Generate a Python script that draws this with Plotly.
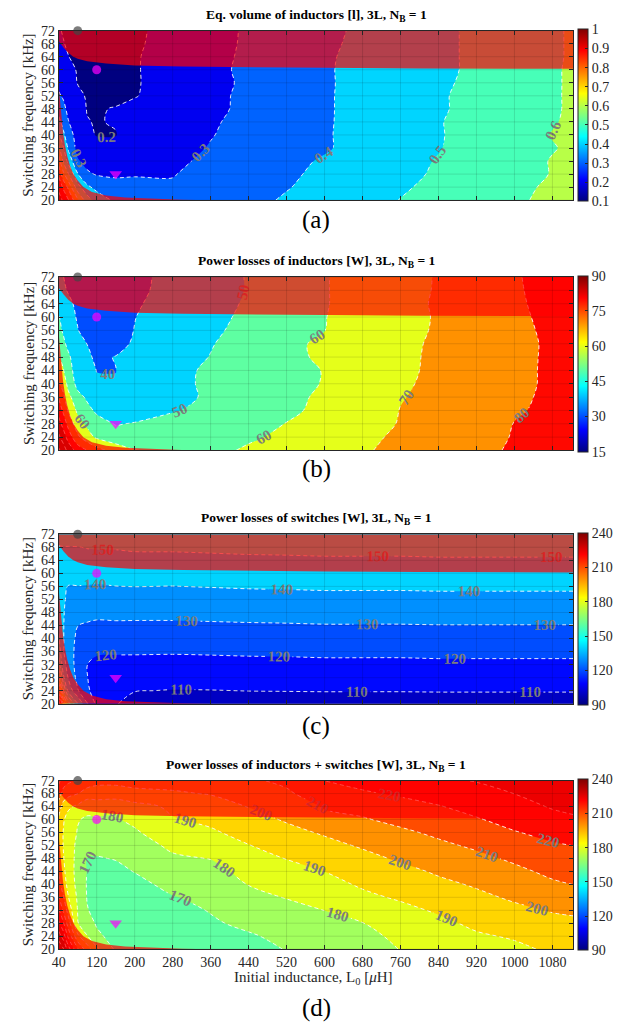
import plotly.graph_objects as go

W, H = 627, 1034

# ---------------- data ----------------
L0 = [40, 50, 60, 80, 100, 120, 160, 200, 280, 360, 440, 520, 600, 680, 760, 840, 920, 1000, 1080, 1124]
FSW = [20, 24, 28, 32, 36, 40, 44, 48, 52, 56, 60, 64, 68, 72]

# (a) equivalent volume of inductors [l]; one row per switching frequency
vol_ind = [
    [1.05, 0.98, 0.91, 0.71, 0.55, 0.46, 0.38, 0.35, 0.33, 0.35, 0.375, 0.41, 0.44, 0.47, 0.502, 0.53, 0.56, 0.59, 0.615, 0.63],
    [0.97, 0.88, 0.78, 0.54, 0.42, 0.37, 0.325, 0.315, 0.31, 0.335, 0.36, 0.395, 0.43, 0.46, 0.49, 0.52, 0.55, 0.585, 0.61, 0.625],
    [0.88, 0.72, 0.61, 0.405, 0.315, 0.293, 0.29, 0.296, 0.296, 0.33, 0.365, 0.385, 0.42, 0.45, 0.48, 0.51, 0.545, 0.575, 0.603, 0.618],
    [0.75, 0.58, 0.47, 0.31, 0.27, 0.255, 0.25, 0.26, 0.285, 0.315, 0.345, 0.375, 0.41, 0.44, 0.475, 0.505, 0.54, 0.57, 0.604, 0.615],
    [0.62, 0.505, 0.39, 0.27, 0.24, 0.225, 0.22, 0.235, 0.27, 0.305, 0.335, 0.37, 0.39, 0.435, 0.47, 0.496, 0.535, 0.568, 0.596, 0.612],
    [0.52, 0.42, 0.34, 0.265, 0.215, 0.197, 0.197, 0.24, 0.275, 0.296, 0.33, 0.365, 0.39, 0.435, 0.468, 0.494, 0.53, 0.565, 0.603, 0.615],
    [0.43, 0.36, 0.305, 0.245, 0.203, 0.196, 0.205, 0.245, 0.27, 0.29, 0.325, 0.36, 0.39, 0.43, 0.465, 0.495, 0.53, 0.56, 0.595, 0.612],
    [0.36, 0.32, 0.28, 0.23, 0.197, 0.185, 0.21, 0.225, 0.255, 0.28, 0.32, 0.355, 0.39, 0.428, 0.46, 0.49, 0.525, 0.558, 0.592, 0.61],
    [0.31, 0.29, 0.26, 0.225, 0.19, 0.165, 0.155, 0.195, 0.245, 0.28, 0.318, 0.355, 0.39, 0.428, 0.458, 0.49, 0.525, 0.555, 0.592, 0.61],
    [0.28, 0.25, 0.23, 0.197, 0.17, 0.155, 0.15, 0.192, 0.24, 0.275, 0.315, 0.352, 0.39, 0.425, 0.455, 0.485, 0.52, 0.552, 0.59, 0.612],
    [0.23, 0.22, 0.215, 0.196, 0.15, 0.14, 0.155, 0.193, 0.238, 0.278, 0.318, 0.357, 0.39, 0.427, 0.456, 0.482, 0.515, 0.55, 0.59, 0.612],
    [0.22, 0.215, 0.203, 0.17, 0.15, 0.14, 0.155, 0.193, 0.235, 0.275, 0.315, 0.355, 0.388, 0.425, 0.455, 0.482, 0.515, 0.55, 0.588, 0.61],
    [0.215, 0.205, 0.185, 0.16, 0.145, 0.14, 0.155, 0.188, 0.232, 0.272, 0.312, 0.352, 0.383, 0.42, 0.452, 0.482, 0.515, 0.55, 0.588, 0.61],
    [0.21, 0.191, 0.17, 0.15, 0.14, 0.14, 0.155, 0.185, 0.23, 0.27, 0.311, 0.35, 0.38, 0.415, 0.45, 0.482, 0.515, 0.55, 0.588, 0.61],
]

# (b) power losses of inductors [W]
loss_ind = [
    [112, 105, 97, 86, 80.5, 74, 66, 60.5, 57, 58, 61, 63, 65.5, 69, 72.5, 75, 78, 81, 83.5, 86],
    [102, 95, 86, 72, 64, 58.5, 54, 53, 54, 55.5, 59, 61.5, 64, 68, 71.5, 74, 77, 80.5, 83, 85],
    [94, 86, 77, 64, 58, 53.5, 49.5, 50.5, 52.5, 54.5, 56.5, 60.2, 62.5, 66.5, 70.5, 73, 76.5, 80.2, 82.5, 85],
    [86, 78, 69, 58, 52.5, 48.5, 45, 46, 49.5, 52, 55, 58.8, 61.5, 65.5, 70.2, 72.5, 76, 79, 82, 84],
    [79, 72, 63, 53, 48.5, 45, 43, 44.5, 48.8, 50.6, 54.5, 58.5, 61, 65, 69.6, 72, 75.5, 78.5, 81.5, 84],
    [71, 66, 57, 47, 44, 40.6, 40.4, 44, 48.5, 51, 54, 57, 60.5, 65, 69.7, 70.5, 75, 78.5, 81, 84],
    [64, 60.5, 52.5, 47, 42, 39.9, 39.9, 43.5, 48.2, 51, 54, 57.5, 60.3, 65, 69.6, 70.4, 75, 77.7, 81.5, 84],
    [60.5, 57, 51.5, 45, 41, 39, 40.2, 42.5, 47, 50.2, 53.5, 58.5, 61, 65, 69.3, 70.6, 75, 77.5, 81.5, 84],
    [55, 51.5, 48, 43, 39.9, 37.5, 38, 40.8, 46, 49.6, 53, 58.5, 61.2, 65, 68.8, 70.8, 74.5, 77.3, 81.5, 84],
    [52, 49, 45.5, 40.2, 38, 36.5, 37, 40.2, 45, 48.8, 52, 56, 59.9, 64.5, 68.6, 70.5, 74.5, 77.5, 82, 85],
    [50.5, 47, 42, 39.5, 37.5, 36, 36.5, 39.8, 44.5, 48, 51.5, 55.5, 59.7, 64.5, 68.5, 70.4, 75, 78, 82.5, 85],
    [45, 43.5, 41.5, 38.5, 36.5, 35.5, 36, 39, 43.5, 47, 51, 55, 59.4, 64, 67.8, 70.8, 75, 78.5, 83, 86],
    [43, 41, 39.5, 37, 35.5, 35, 35.5, 38, 43, 46.5, 50.5, 55, 59.4, 64, 67.5, 70.6, 75, 78.8, 83.5, 86],
    [42, 40.1, 38, 36, 35, 34.5, 35, 37.5, 43, 46.5, 50.5, 55, 59.4, 64, 67.5, 70.5, 75, 79, 84, 86],
]

# (c) power losses of switches [W]
loss_sw = [
    [238, 198, 175, 151, 131, 118, 110.5, 107, 105.8, 106, 106.2, 106.3, 106.5, 106.5, 106.5, 106.6, 106.6, 106.6, 106.6, 106.6],
    [205, 171, 148, 130.8, 122, 115, 111.5, 110.3, 109.7, 109.8, 110.1, 110.2, 110.3, 110.3, 110.3, 110.4, 110.4, 110.4, 110.4, 110.4],
    [181, 152, 139.5, 127, 120.3, 115.5, 114, 113.8, 113.3, 113.5, 113.8, 113.9, 114.2, 114.2, 114.2, 114.3, 114.3, 114.3, 114.3, 114.3],
    [165, 143, 137, 125.5, 120.1, 117.5, 117.2, 117.3, 117, 117.3, 117.6, 117.8, 118.1, 118.1, 118.1, 118.3, 118.3, 118.3, 118.3, 118.3],
    [156, 140.5, 136, 126, 121.5, 121.3, 121, 120.9, 120.8, 121, 121.3, 121.4, 121.7, 121.7, 121.7, 122, 122, 122, 122, 122],
    [151, 140.3, 136, 127.5, 125, 125, 124.8, 124.6, 124.5, 124.8, 125.1, 125.3, 125.6, 125.6, 125.6, 125.8, 125.8, 125.8, 125.8, 125.8],
    [148.5, 140.3, 136.5, 130.1, 129, 128.5, 128.6, 128.5, 128.5, 128.8, 129.1, 129.3, 129.6, 129.6, 129.6, 129.8, 129.8, 129.8, 129.8, 129.8],
    [147.5, 140.5, 137.5, 133.5, 133, 132, 132.4, 132.4, 132.4, 132.7, 133, 133.2, 133.5, 133.5, 133.5, 133.7, 133.7, 133.7, 133.7, 133.7],
    [147, 141, 138.5, 137, 136.8, 136.5, 136.2, 136.2, 136.2, 136.5, 136.9, 137.1, 137.4, 137.4, 137.4, 137.6, 137.6, 137.6, 137.6, 137.6],
    [147, 142.5, 139.7, 139.8, 139.6, 139.3, 139.9, 140.1, 139.9, 140.3, 140.7, 140.9, 141.2, 141.2, 141.2, 141.4, 141.4, 141.4, 141.4, 141.4],
    [147.5, 145.5, 142.5, 143.5, 143.5, 143, 143.6, 143.8, 143.7, 144.1, 144.5, 144.7, 145.1, 145.1, 145.1, 145.2, 145.2, 145.2, 145.2, 145.2],
    [148.5, 148, 146.5, 147.3, 147.5, 147.4, 147.5, 147.6, 147.6, 147.9, 148.3, 148.5, 148.8, 148.8, 148.8, 149.1, 149.1, 149.1, 149.1, 149.1],
    [149.7, 149.8, 149.7, 149.8, 150.3, 150.6, 150.6, 151.2, 151.3, 151.7, 152.1, 152.3, 152.6, 152.6, 152.6, 152.8, 152.8, 152.8, 152.8, 152.8],
    [152, 153, 154, 154.5, 154.5, 154.3, 155.1, 155.1, 155.1, 155.4, 155.8, 156, 156.4, 156.4, 156.4, 156.6, 156.6, 156.6, 156.6, 156.6],
]

# (d) power losses of inductors + switches [W]
loss_tot = [
    [259, 251, 235, 211, 195, 182, 168.5, 166, 165.5, 167, 167.5, 170.3, 173, 175.5, 180.3, 183.5, 186.5, 188, 191.5, 193],
    [245, 235, 218, 192, 180.5, 172, 166.5, 164.5, 165.1, 167.5, 169, 172.3, 175.1, 177.5, 182, 185.1, 188.8, 191, 194.5, 195.5],
    [232, 221, 205, 180.5, 174, 169, 165.1, 164, 165.5, 168.8, 172, 174.8, 177.3, 179.8, 184.5, 187.8, 192, 195.1, 197.5, 198.3],
    [221, 208, 196, 179.6, 170.5, 167.5, 164.5, 164.5, 167, 170.5, 175.1, 177.3, 180.1, 184.5, 187.5, 191.2, 195.1, 198, 200.6, 201.3],
    [211, 200.5, 190.5, 178.5, 169.5, 167, 164.8, 165.5, 169.6, 172, 177.5, 180.4, 184, 188, 191.2, 195.1, 198, 201.3, 205.5, 206.5],
    [203, 195, 187, 177, 169.3, 167.3, 165.5, 167.5, 172.5, 174.3, 180.3, 184, 187, 191.2, 194.5, 198, 201, 204.8, 208.7, 210.1],
    [199, 192, 185.5, 176.5, 169.6, 168, 168, 170.3, 175.5, 177, 183, 187, 190.1, 194.5, 197.5, 201.2, 204.5, 208, 212, 213],
    [197, 190.5, 185.1, 177, 169.8, 169.5, 170.4, 172.5, 178.5, 180.3, 186, 190.3, 193.5, 197.5, 201.2, 204.5, 207.8, 211.5, 215.5, 216.5],
    [196, 189.5, 184.5, 178, 173, 172.5, 172.5, 175.5, 182, 185.1, 189.7, 194.2, 197.5, 201, 204.7, 208.2, 211.5, 216, 219, 220.1],
    [196, 189.5, 184.5, 179.5, 177.5, 176, 176, 178.8, 186, 188.6, 193.5, 197.5, 201, 205.5, 208.3, 211.8, 215.5, 219.5, 222.5, 224.5],
    [198, 191, 186, 180.5, 179, 179, 179.2, 182, 189.3, 192.2, 196.8, 200.9, 207.5, 209.2, 212.5, 215.5, 219.3, 223, 227, 228.8],
    [205.1, 196, 192, 188, 182.5, 183.5, 181.5, 186, 192, 196, 200.3, 204, 210.8, 213, 216.5, 219.5, 223, 226.5, 230.8, 232],
    [215.1, 206, 203, 200.2, 196, 196, 196.5, 198.5, 199, 200.5, 205.1, 208.5, 215.5, 218.8, 221.3, 224, 226.5, 230.1, 234, 235.5],
    [222, 215.1, 212, 210.2, 205.1, 202.5, 202, 202, 203, 204, 208.5, 212, 220.1, 223, 227, 228.5, 230.5, 234, 237, 239],
]

# infeasible (shaded) region boundaries
shade_top_x = [40, 50, 60, 70, 80, 100, 140, 200, 300, 400, 600, 800, 1124]
shade_top_y = [68.8, 66.8, 65.2, 64.1, 63.4, 62.6, 61.9, 61.3, 61.0, 60.8, 60.6, 60.4, 60.3]
shade_corner_x = [40, 43, 46, 49, 53, 58, 64, 71, 80, 92, 110, 140, 180, 240, 300, 360]
shade_corner_y = [55, 50, 45, 41, 37, 33.5, 30.5, 28, 26, 24, 22.5, 21.4, 20.8, 20.4, 20.15, 20.0]

# highlighted design points
mark_x = [80, 120, 160]
mark_y = [72, 60, 28]
mark_symbol = ["circle", "circle", "triangle-down"]
mark_color = ["rgb(68,68,68)", "rgb(255,0,255)", "rgb(255,0,255)"]
mark_size = [9, 9, 11]

x_ticks = [40, 120, 200, 280, 360, 440, 520, 600, 680, 760, 840, 920, 1000, 1080]
y_ticks = [20, 24, 28, 32, 36, 40, 44, 48, 52, 56, 60, 64, 68, 72]
X_RANGE = [40, 1124]
Y_RANGE = [20, 72]

titles = [
    "<b>Eq. volume of inductors [l], 3L, N<sub>B</sub> = 1</b>",
    "<b>Power losses of inductors [W], 3L, N<sub>B</sub> = 1</b>",
    "<b>Power losses of switches [W], 3L, N<sub>B</sub> = 1</b>",
    "<b>Power losses of inductors + switches [W], 3L, N<sub>B</sub> = 1</b>",
]
captions = ["(a)", "(b)", "(c)", "(d)"]

cbar_vals = [
    [0.1, 0.2, 0.3, 0.4, 0.5, 0.6, 0.7, 0.8, 0.9, 1.0],
    [15, 30, 45, 60, 75, 90],
    [90, 120, 150, 180, 210, 240],
    [90, 120, 150, 180, 210, 240],
]
cbar_text = [
    ["0.1", "0.2", "0.3", "0.4", "0.5", "0.6", "0.7", "0.8", "0.9", "1"],
    ["15", "30", "45", "60", "75", "90"],
    ["90", "120", "150", "180", "210", "240"],
    ["90", "120", "150", "180", "210", "240"],
]
cranges = [(0.1, 1.0), (15, 90), (90, 240), (90, 240)]
# contour levels: first level, step, number of levels (levels above the data
# simply draw nothing but make plotly place labels more densely)
levels = [(0.1, 0.1, 50), (20, 10, 50), (100, 10, 50), (160, 10, 50)]
label_fmt = [".1f", ".0f", ".0f", ".0f"]
zdata = [vol_ind, loss_ind, loss_sw, loss_tot]

# ---------------- layout geometry (pixels) ----------------
tops = [24, 274, 535, 785]
bottoms = [196, 450, 707, 956]
plot_left, plot_right = 52.3, 572.7
title_y = [8.5, 258, 519, 770]
caption_y = [216, 469, 730, 1016]

FONT = "Liberation Serif"
INK = "rgb(38,38,38)"


def jet_rgb(t):
    t = max(0.0, min(1.0, t))
    r = max(0.0, min(1.0, 1.5 - abs(4 * t - 3)))
    g = max(0.0, min(1.0, 1.5 - abs(4 * t - 2)))
    b = max(0.0, min(1.0, 1.5 - abs(4 * t - 1)))
    return "rgb(%d,%d,%d)" % (round(r * 255), round(g * 255), round(b * 255))


jet_cont = [[i / 64, jet_rgb(i / 64)] for i in range(65)]


def band_scale(start, cs, nc, cmin, cmax):
    # stepped scale: each filled band gets the jet colour of its lower level
    # (MATLAB contourf convention); steps offset so a band's sample point
    # falls well inside its own step
    sc = []
    for k in range(nc + 1):
        lev = start + (k - 1) * cs
        col = jet_rgb((lev - cmin) / (cmax - cmin))
        p0 = max(0.0, (k - 0.25) / nc)
        p1 = min(1.0, (k + 0.75) / nc)
        if p1 <= p0:
            continue
        sc.append([p0, col])
        sc.append([p1, col])
    sc[0][0] = 0.0
    sc[-1][0] = 1.0
    return sc


fig = go.Figure()
layout = dict(
    width=W, height=H,
    margin=dict(l=0, r=0, t=0, b=0),
    paper_bgcolor="white", plot_bgcolor="white",
    showlegend=False,
    font=dict(family=FONT, color=INK),
    annotations=[],
)

for i in range(4):
    n = "" if i == 0 else str(i + 1)
    xa, ya = "x" + n, "y" + n
    y0 = 1 - bottoms[i] / H
    y1 = 1 - tops[i] / H
    s, cs, nlev = levels[i]
    e = round(s + (nlev - 1) * cs, 6)
    cmin, cmax = cranges[i]

    fig.add_trace(go.Contour(
        x=L0, y=FSW, z=zdata[i], xaxis=xa, yaxis=ya,
        autocontour=False,
        contours=dict(start=s, end=e, size=cs, coloring="fill", showlabels=True,
                      labelfont=dict(family=FONT, size=15, color="rgb(125,125,125)", weight="bold"),
                      labelformat=label_fmt[i]),
        line=dict(color="white", width=0.9, dash="4px,3px"),
        colorscale=band_scale(s, cs, nlev, cmin, cmax),
        showscale=False, hoverinfo="skip",
    ))

    # shaded infeasible regions
    fig.add_trace(go.Scatter(
        x=shade_top_x + [X_RANGE[1], X_RANGE[0]], y=shade_top_y + [Y_RANGE[1], Y_RANGE[1]],
        xaxis=xa, yaxis=ya, mode="lines", fill="toself",
        fillcolor="rgba(255,0,0,0.7)", line=dict(width=0), hoverinfo="skip"))
    fig.add_trace(go.Scatter(
        x=shade_corner_x + [X_RANGE[0]], y=shade_corner_y + [Y_RANGE[0]],
        xaxis=xa, yaxis=ya, mode="lines", fill="toself",
        fillcolor="rgba(255,0,0,0.7)", line=dict(width=0), hoverinfo="skip"))

    # grid drawn on top (MATLAB style)
    gx, gy = [], []
    for xv in x_ticks:
        gx += [xv, xv, None]
        gy += [Y_RANGE[0], Y_RANGE[1], None]
    for yv in y_ticks:
        gx += [X_RANGE[0], X_RANGE[1], None]
        gy += [yv, yv, None]
    fig.add_trace(go.Scatter(x=gx, y=gy, xaxis=xa, yaxis=ya, mode="lines",
                             line=dict(color="rgba(0,0,0,0.2)", width=0.6), hoverinfo="skip"))

    # design points
    fig.add_trace(go.Scatter(
        x=mark_x, y=mark_y, xaxis=xa, yaxis=ya, mode="markers", cliponaxis=False,
        marker=dict(symbol=mark_symbol, color=mark_color, size=mark_size, line=dict(width=0)),
        hoverinfo="skip"))

    # continuous colour bar
    fig.add_trace(go.Scatter(
        x=[L0[0]], y=[FSW[0]], xaxis=xa, yaxis=ya, mode="markers", hoverinfo="skip",
        marker=dict(size=1, opacity=0, color=[cmin], cmin=cmin, cmax=cmax,
                    colorscale=jet_cont, showscale=True,
                    colorbar=dict(x=577 / W, xanchor="left", y=(y0 + y1) / 2, yanchor="middle",
                                  len=bottoms[i] - tops[i], lenmode="pixels",
                                  thickness=10, thicknessmode="pixels",
                                  outlinewidth=1, outlinecolor=INK, borderwidth=0,
                                  xpad=0, ypad=0,
                                  tickvals=cbar_vals[i], ticktext=cbar_text[i],
                                  ticks="inside", ticklen=3, tickcolor=INK,
                                  tickfont=dict(family=FONT, size=14, color=INK)))))

    layout["xaxis" + n] = dict(
        domain=[plot_left / W, plot_right / W], range=X_RANGE, anchor=ya,
        tickmode="array", tickvals=x_ticks, ticks="inside", ticklen=4, tickcolor=INK,
        showline=True, linecolor=INK, linewidth=1, mirror="ticks",
        showgrid=False, zeroline=False, showticklabels=(i == 3),
        tickfont=dict(family=FONT, size=14, color=INK))
    layout["yaxis" + n] = dict(
        domain=[y0, y1], range=Y_RANGE, anchor=xa,
        tickmode="array", tickvals=y_ticks, ticks="inside", ticklen=4, tickcolor=INK,
        showline=True, linecolor=INK, linewidth=1, mirror="ticks",
        showgrid=False, zeroline=False,
        tickfont=dict(family=FONT, size=14, color=INK))

    layout["annotations"] += [
        dict(text=titles[i], x=(plot_left + plot_right) / 2 / W, y=1 - title_y[i] / H,
             xref="paper", yref="paper", xanchor="center", yanchor="middle", showarrow=False,
             font=dict(family=FONT, size=13.5, color="black")),
        dict(text=captions[i], x=(plot_left + plot_right) / 2 / W, y=1 - caption_y[i] / H,
             xref="paper", yref="paper", xanchor="center", yanchor="middle", showarrow=False,
             font=dict(family=FONT, size=25, color="black")),
        dict(text="Switching frequency [kHz]", x=21.5 / W, y=(y0 + y1) / 2, textangle=-90,
             xref="paper", yref="paper", xanchor="center", yanchor="middle", showarrow=False,
             font=dict(family=FONT, size=15, color=INK)),
    ]

layout["annotations"].append(
    dict(text="Initial inductance, L<sub>0</sub> [<i>\u03bc</i>H]", x=310 / W, y=1 - 985 / H,
         xref="paper", yref="paper", xanchor="center", yanchor="middle", showarrow=False,
         font=dict(family=FONT, size=15, color=INK)))

fig.update_layout(**layout)
fig.write_html("out.html")
